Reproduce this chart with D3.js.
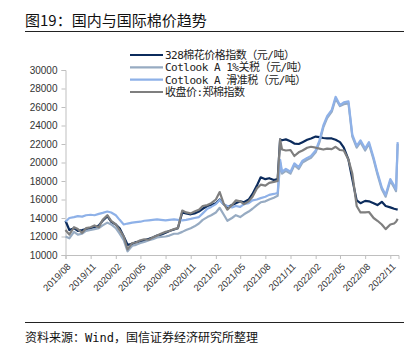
<!DOCTYPE html>
<html><head><meta charset="utf-8">
<script src="https://cdn.jsdelivr.net/npm/d3@7"></script>
<style>
body{margin:0;background:#fff;}
svg{display:block;}
</style></head>
<body>
<svg id="chart" width="417" height="351"></svg>
<script>
const title = "图19：国内与国际棉价趋势";
const source = "资料来源：Wind，国信证券经济研究所整理";
const seriesNames = ["328棉花价格指数（元/吨）", "Cotlook A 1%关税（元/吨）", "Cotlook A 滑准税（元/吨）", "收盘价:郑棉指数"];
const yTicks = [10000,12000,14000,16000,18000,20000,22000,24000,26000,28000,30000];
const xTickLabels = ["2019/08","2019/11","2020/02","2020/05","2020/08","2020/11","2021/02","2021/05","2021/08","2021/11","2022/02","2022/05","2022/08","2022/11"];

const dates = [
"2019-08-01","2019-08-15","2019-09-01","2019-09-15","2019-10-01","2019-10-15","2019-11-01","2019-11-15","2019-12-01","2019-12-15",
"2020-01-01","2020-01-15","2020-02-01","2020-02-15","2020-03-01","2020-03-15","2020-04-01","2020-04-15","2020-05-01","2020-05-15",
"2020-06-01","2020-06-15","2020-07-01","2020-07-15","2020-08-01","2020-08-15","2020-09-01","2020-09-15","2020-10-01","2020-10-15",
"2020-11-01","2020-11-15","2020-12-01","2020-12-15","2021-01-01","2021-01-15","2021-02-01","2021-02-15","2021-03-01","2021-03-15",
"2021-04-01","2021-04-15","2021-05-01","2021-05-15","2021-06-01","2021-06-15","2021-07-01","2021-07-15","2021-08-01","2021-08-15",
"2021-09-01","2021-09-15","2021-09-24","2021-10-01","2021-10-15","2021-11-01","2021-11-15","2021-12-01","2021-12-15",
"2022-01-01","2022-01-15","2022-02-01","2022-02-15","2022-03-01","2022-03-15","2022-04-01","2022-04-15","2022-05-01","2022-05-15",
"2022-06-01","2022-06-15","2022-07-01","2022-07-15","2022-08-01","2022-08-15","2022-09-01","2022-09-15","2022-10-01","2022-10-15",
"2022-11-01","2022-11-15","2022-11-22","2022-11-28"];

const index328 = [
13700,12700,12900,12600,12700,12800,12900,13000,13200,13700,
14200,13600,13300,12900,12000,11100,11200,11400,11450,11600,
11750,11900,12100,12200,12400,12600,12750,12900,14600,14500,
14400,14500,14700,15000,15300,15400,15600,16000,15500,15200,
15400,15600,15800,15700,16000,16600,17500,18400,18200,18300,
18100,18200,22500,22400,22500,22300,22050,22000,22200,
22450,22600,22800,22750,22650,22600,22600,22450,22200,21600,
20300,18200,15900,15600,15850,15800,15600,15400,15750,15300,
15150,15000,14950,14900];

const cotlook1 = [
12000,11800,12500,12200,12300,12600,12700,12800,12900,13200,
13500,13300,12900,12300,11600,10400,11000,11100,11300,11400,
11600,11700,11900,11950,12000,12100,12300,12300,12500,12700,
12900,13100,13400,13800,14100,14300,14600,15100,14400,13700,
14000,14300,14100,14400,14700,15000,15400,15700,15800,16000,
16200,16400,20000,18800,19100,18800,19700,19300,20000,
20300,20500,21100,22200,23800,24800,25500,26900,26100,26300,
26400,22800,21600,22200,21300,22000,20300,18700,17100,16300,
18000,17300,16900,22000];

const cotlookSliding = [
13600,14000,14100,14200,14150,14300,14350,14300,14450,14550,
14700,14600,14300,13800,13300,13400,13500,13550,13600,13700,
13750,13800,13850,13800,13750,13800,13850,13800,13750,13800,
13900,14000,14100,14500,15000,15200,15500,15950,15500,15300,
15150,15300,15200,15500,15600,15900,16000,16150,16300,16500,
16600,16700,20300,19000,19300,19000,19900,19500,20200,
20500,20700,21300,22400,24000,25000,25700,27100,26200,26500,
26600,23000,21800,22400,21500,22200,20500,18900,17300,16500,
18200,17500,17100,22200];

const zceClose = [
12700,12200,13000,12800,12400,12900,13000,13200,13000,13800,
14300,13700,13300,12700,12000,10600,11300,11350,11600,11700,
11650,11900,12100,12300,12500,12600,12800,12900,14800,14600,
14500,14700,14900,15300,15400,15600,16000,16800,15600,14900,
15400,15900,15800,15500,15800,16300,17200,17600,17500,17800,
17900,18000,22500,21400,21300,21350,20700,21100,21300,
21600,21700,21600,21500,21400,21500,21450,21700,21350,21300,
20300,18800,15300,14600,14600,14650,14000,13700,13300,12800,
13300,13400,13600,13900];

const colors = ["#0b2b5c", "#97abc2", "#8eb1e8", "#7f7f7f"];

const parse = d3.timeParse("%Y-%m-%d");
const dateObjs = dates.map(parse);
const seriesValues = [index328, cotlook1, cotlookSliding, zceClose];

const svg = d3.select("#chart");
const plotLeft = 65.5, plotRight = 398.5, plotTop = 70, plotBottom = 255;

const x = d3.scaleTime().domain([parse("2019-08-01"), parse("2022-12-01")]).range([plotLeft, plotRight]);
const y = d3.scaleLinear().domain([10000, 30000]).range([plotBottom, plotTop]);

// Title
svg.append("text").attr("x", 25).attr("y", 25.5)
  .attr("font-family", "'Noto Sans CJK SC', sans-serif").attr("font-size", 15)
  .attr("fill", "#111").text(title);
svg.append("line").attr("x1", 25).attr("x2", 404).attr("y1", 31.5).attr("y2", 31.5)
  .attr("stroke", "#222").attr("stroke-width", 1);

// Y axis
const yAxis = d3.axisLeft(y).tickValues(yTicks).tickSize(4).tickPadding(4).tickFormat(d3.format("d"));
const gy = svg.append("g").attr("transform", `translate(${plotLeft},0)`).call(yAxis);
gy.select(".domain").attr("stroke", "#bfbfbf");
gy.selectAll(".tick line").attr("stroke", "#bfbfbf");
gy.selectAll("text").attr("font-family", "'Liberation Sans', Arial, sans-serif").attr("font-size", 10).attr("fill", "#333");

// X axis
const xTickDates = xTickLabels.map(s => d3.timeParse("%Y/%m")(s));
const xAxis = d3.axisBottom(x).tickValues(xTickDates).tickSize(4).tickFormat(d3.timeFormat("%Y/%m"));
const gx = svg.append("g").attr("transform", `translate(0,${plotBottom})`).call(xAxis);
gx.select(".domain").attr("stroke", "#bfbfbf");
gx.selectAll(".tick line").attr("stroke", "#bfbfbf");
gx.selectAll("text")
  .attr("font-family", "'Liberation Sans', Arial, sans-serif").attr("font-size", 9.5).attr("fill", "#333")
  .attr("text-anchor", "end").attr("y", 0).attr("dy", "0.35em")
  .attr("transform", "translate(3,10) rotate(-45)");

// Lines
const line = d3.line().x((d, i) => x(dateObjs[i])).y(d => y(d));
seriesValues.forEach((vals, k) => {
  svg.append("path").datum(vals).attr("d", line)
    .attr("fill", "none").attr("stroke", colors[k]).attr("stroke-width", 2.2)
    .attr("stroke-linejoin", "round");
});

// Legend
const legendY = [55, 67.3, 79.6, 92];
seriesNames.forEach((name, k) => {
  svg.append("line").attr("x1", 130).attr("x2", 163).attr("y1", legendY[k]).attr("y2", legendY[k])
    .attr("stroke", colors[k]).attr("stroke-width", 2.2);
  svg.append("text").attr("x", 165).attr("y", legendY[k] + 4)
    .attr("font-family", "'DejaVu Sans Mono', 'Noto Sans CJK SC', monospace").attr("font-size", 11)
    .attr("letter-spacing", "-0.5px")
    .attr("fill", "#222").text(name);
});

// Footer
svg.append("line").attr("x1", 25).attr("x2", 404).attr("y1", 322.5).attr("y2", 322.5)
  .attr("stroke", "#222").attr("stroke-width", 1);
svg.append("text").attr("x", 25).attr("y", 342)
  .attr("font-family", "'DejaVu Sans Mono', 'Noto Sans CJK SC', monospace").attr("font-size", 12)
  .attr("fill", "#111").text(source);
</script>
</body></html>
